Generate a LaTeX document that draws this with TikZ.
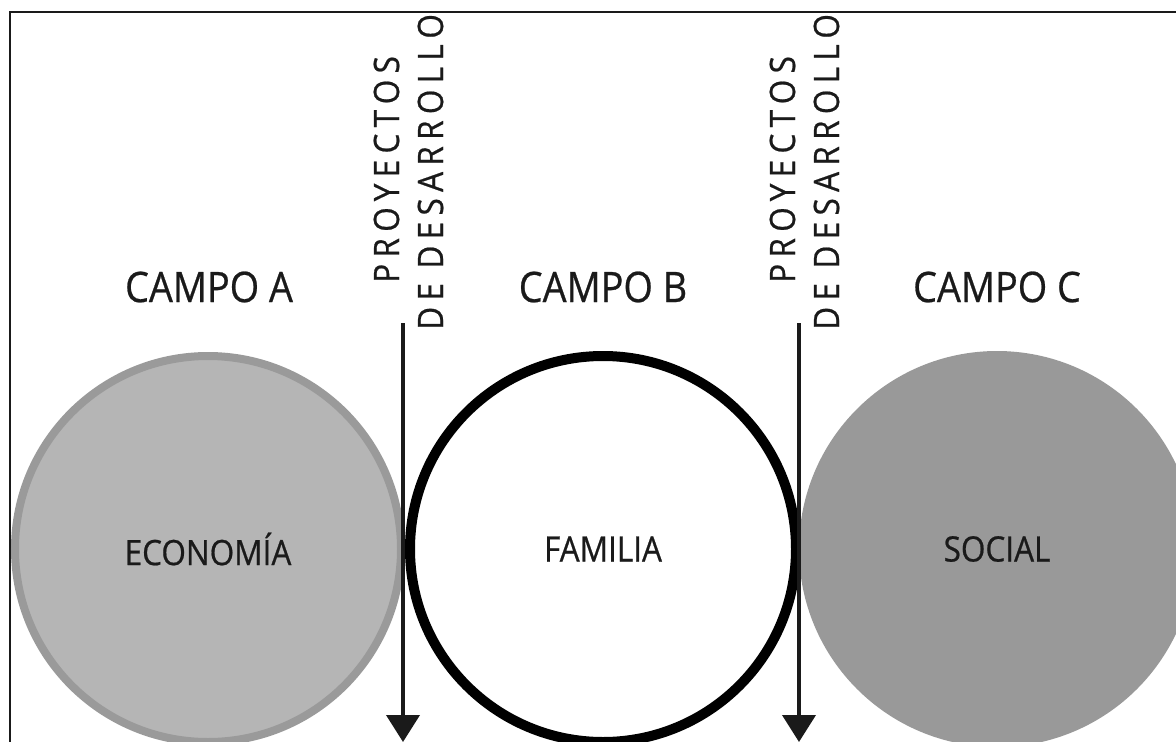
\documentclass[tikz,border=0pt]{standalone}
\usepackage{fontspec}
\setmainfont{Open Sans}[FakeStretch=0.9,FakeBold=0.6]
\usetikzlibrary{arrows.meta}
\definecolor{ink}{HTML}{1A1A1A}
\definecolor{grayA}{HTML}{B5B5B5}
\definecolor{grayAedge}{HTML}{9A9A9A}
\definecolor{grayC}{HTML}{999999}
\tikzset{
  campo/.style={text=ink, font=\fontsize{42}{48}\selectfont, anchor=base},
  inner/.style={text=ink, font=\fontsize{35}{40}\selectfont},
  vlabel/.style={text=ink, rotate=90, anchor=base west, inner sep=0pt,
    font=\fontsize{35}{36}\selectfont\addfontfeature{LetterSpace=18}},
  flow/.style={line width=4pt, draw=ink, -{Triangle[width=33pt,length=27pt]}},
  ring/.style={circle, inner sep=0pt, minimum size=386pt}
}
\begin{document}
\begin{tikzpicture}[x=1pt,y=-1pt]
\useasboundingbox (0,0) rectangle (1176,742);
\clip (0,0) rectangle (1176,742);
\fill[white] (0,0) rectangle (1176,742);
% vertical labels
\node[vlabel] (p1) at (399,283) {PROYECTOS};
\node[vlabel] (d1) at (443,330) {DE DESARROLLO};
\node[vlabel] (p2) at (795,283) {PROYECTOS};
\node[vlabel] (d2) at (839,330) {DE DESARROLLO};
\fill[white] (0,0) rectangle (1176,12);
\draw[line width=1.5pt, ink] (10,742) -- (10,12) -- (1176,12);
% circles
\node[ring, fill=grayA, draw=grayAedge, line width=8pt, inner] (ca) at (208,549) {ECONOMÍA};
\node[ring, fill=white, draw=black, line width=10pt, inner] (cb) at (603,549) {FAMILIA};
\node[circle, inner sep=0pt, minimum size=396pt, fill=grayC, inner] (cc) at (997,549) {SOCIAL};
% titles
\node[campo] (ta) at (209,302) {CAMPO A};
\node[campo] (tb) at (603,302) {CAMPO B};
\node[campo] (tc) at (997,302) {CAMPO C};
% arrows
\coordinate (a1s) at (403,323);
\coordinate (a1e) at (403,742);
\coordinate (a2s) at (799,323);
\coordinate (a2e) at (799,742);
\draw[flow] (a1s) -- (a1e);
\draw[flow] (a2s) -- (a2e);
\end{tikzpicture}
\end{document}
